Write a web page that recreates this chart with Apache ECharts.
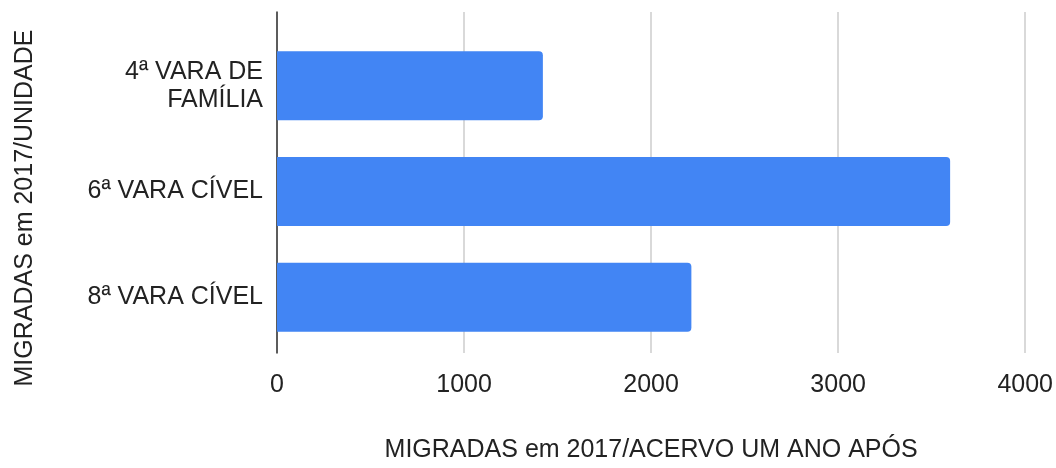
<!DOCTYPE html>
<html>
<head>
<meta charset="utf-8">
<script src="https://cdn.jsdelivr.net/npm/echarts@6/dist/echarts.min.js"></script>
<style>
  html, body { margin: 0; padding: 0; background: #fff; }
  #chart { width: 1056px; height: 468px; }
</style>
</head>
<body>
<div id="chart"></div>
<script>
// categories (top to bottom) and values
var unidades = ['4ª VARA DE\nFAMÍLIA', '6ª VARA CÍVEL', '8ª VARA CÍVEL'];
var acervo = [1418, 3590, 2210];
var xTicks = { min: 0, max: 4000, interval: 1000 };

var fonte = 'Liberation Sans, Arial, sans-serif';
var myChart = echarts.init(document.getElementById('chart'));

var option = {
  animation: false,
  textStyle: { fontFamily: fonte },
  // grid 0 = frame (gridlines + left axis line), grid 1 = bars
  grid: [
    { left: 277, right: 29, top: 12, bottom: 102 },
    { left: 277, right: 29, top: 33, height: 317 }
  ],
  xAxis: [
    {
      gridIndex: 0,
      type: 'value',
      min: xTicks.min,
      max: xTicks.max,
      interval: xTicks.interval,
      axisLine: { show: false },
      axisTick: { show: false },
      axisLabel: {
        fontSize: 25, color: '#222', margin: 20, fontFamily: fonte,
        formatter: function (v) { return String(v); }
      },
      splitLine: { lineStyle: { color: '#cccccc', width: 1.5 } },
      name: 'MIGRADAS em 2017/ACERVO UM ANO APÓS',
      nameLocation: 'middle',
      nameGap: 85,
      nameTextStyle: { fontSize: 25, color: '#222', fontFamily: fonte }
    },
    {
      gridIndex: 1,
      type: 'value',
      min: xTicks.min,
      max: xTicks.max,
      show: false
    }
  ],
  yAxis: [
    {
      gridIndex: 0,
      type: 'value',
      axisLine: { show: true, lineStyle: { color: '#333', width: 1.5 } },
      axisTick: { show: false },
      axisLabel: { show: false },
      splitLine: { show: false }
    },
    {
      gridIndex: 1,
      type: 'category',
      inverse: true,
      data: unidades,
      axisLine: { show: false },
      axisTick: { show: false },
      axisLabel: { fontSize: 25, color: '#222', margin: 14, lineHeight: 28, fontFamily: fonte }
    }
  ],
  series: [
    {
      type: 'bar',
      xAxisIndex: 1,
      yAxisIndex: 1,
      data: acervo,
      barWidth: 69,
      itemStyle: { color: '#4285F4', borderRadius: [0, 4, 4, 0] }
    }
  ],
  graphic: [
    {
      type: 'text',
      x: 25.5,
      y: 208,
      rotation: Math.PI / 2,
      style: {
        text: 'MIGRADAS em 2017/UNIDADE',
        fontSize: 25,
        fontFamily: fonte,
        fill: '#222',
        align: 'center',
        verticalAlign: 'middle'
      }
    }
  ]
};

myChart.setOption(option);
</script>
</body>
</html>
